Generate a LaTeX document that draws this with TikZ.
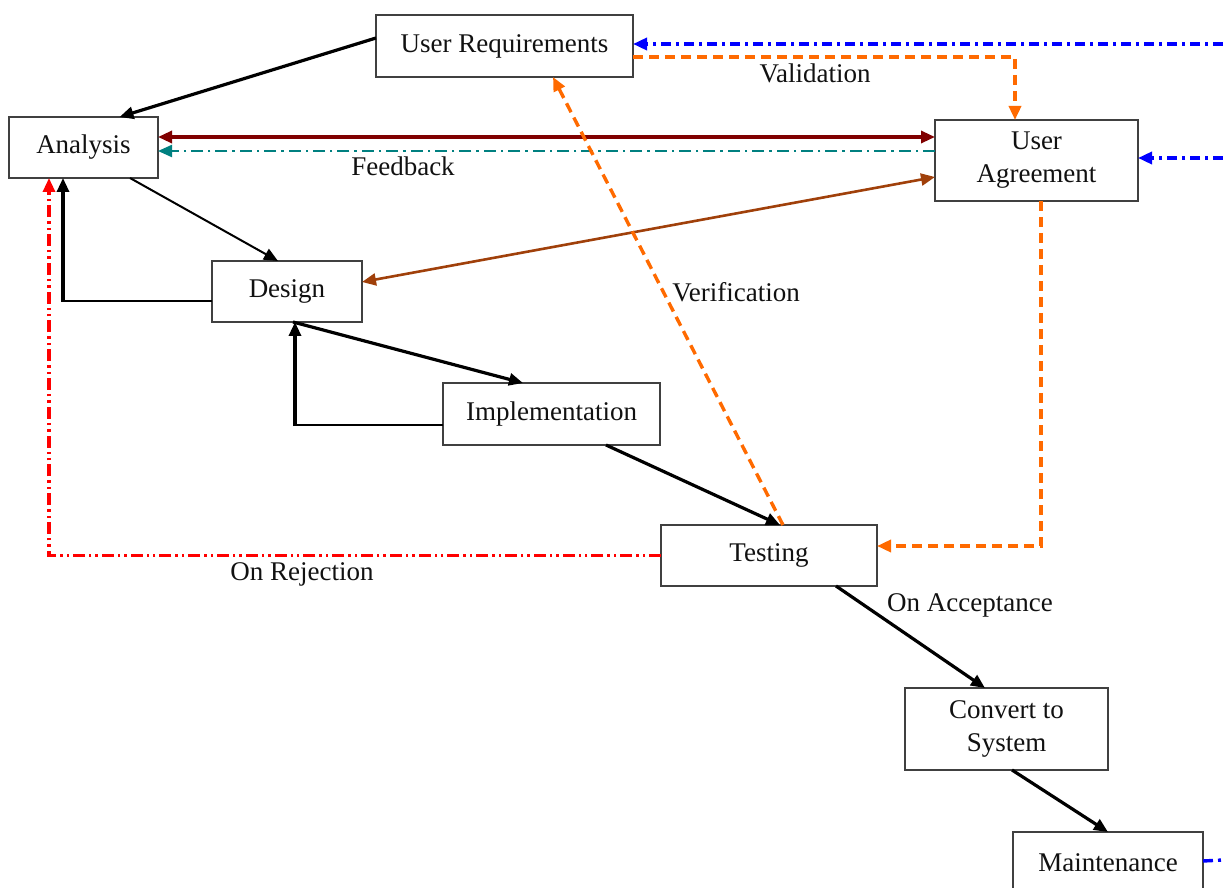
\documentclass[tikz,border=0pt]{standalone}
\usepackage{fontspec}
\setmainfont{Liberation Serif}
\usetikzlibrary{arrows.meta}
\definecolor{boxline}{HTML}{404040}
\definecolor{txt}{HTML}{111111}
\definecolor{maroonline}{HTML}{800000}
\definecolor{tealline}{HTML}{008080}
\definecolor{brownline}{HTML}{A0400A}
\definecolor{orangeline}{HTML}{FF6A00}
\definecolor{blueline}{HTML}{0000FF}
\definecolor{redline}{HTML}{FF0000}
\begin{document}
\begin{tikzpicture}[x=0.5pt,y=-0.5pt,
  font=\fontsize{13.5}{16.5}\selectfont, text=txt,
  stage/.style={draw=boxline, line width=1pt, fill=white, inner sep=0pt, outer sep=0pt, align=center},
  lbl/.style={inner sep=0pt},
  tip/.style={-{Triangle[length=7pt,width=6pt]}},
  dtip/.style={{Triangle[length=7pt,width=6pt]}-{Triangle[length=7pt,width=6pt]}},
  flow/.style={tip, line width=1.6pt, black},
  thinflow/.style={tip, line width=1pt, black},
  orangedash/.style={tip, orangeline, line width=1.7pt, dash pattern=on 5pt off 3pt},
  bluedash/.style={blueline, line width=1.7pt, dash pattern=on 5pt off 2.5pt on 1.5pt off 2.5pt},
  tealdash/.style={tip, tealline, line width=1.1pt, dash pattern=on 6pt off 2.5pt on 1.2pt off 2.5pt},
  reddash/.style={tip, redline, line width=1.6pt, dash pattern=on 6pt off 2pt on 1.2pt off 2pt on 1.2pt off 2pt}]
\useasboundingbox (0,0) rectangle (1223,888);

% stages
\node[stage, minimum width=128.5pt, minimum height=31pt] (ureq) at (504.5,46) {User Requirements};
\node[stage, minimum width=74.5pt, minimum height=30.5pt] (ana) at (83.5,147.5) {Analysis};
\node[stage, minimum width=101.5pt, minimum height=40.5pt] (uagr) at (1036.5,160.5) {User\\Agreement};
\node[stage, minimum width=75pt, minimum height=30.5pt] (des) at (287,291.5) {Design};
\node[stage, minimum width=108.5pt, minimum height=31pt] (imp) at (551.5,414) {Implementation};
\node[stage, minimum width=108pt, minimum height=30.5pt] (test) at (769,555.5) {Testing};
\node[stage, minimum width=101.5pt, minimum height=41pt] (conv) at (1006.5,729) {Convert to\\System};
\node[stage, minimum width=95pt, minimum height=31pt] (maint) at (1108,863) {Maintenance};

% open ends of the outside links
\coordinate (outA) at (1223,44);
\coordinate (outB) at (1223,158);
\coordinate (outC) at (1223,860);

% labels
\node[lbl] (lval) at (815,73) {Validation};
\node[lbl] (lfb) at (403,166) {Feedback};
\node[lbl] (lver) at (736,292) {Verification};
\node[lbl] (lrej) at (302,574) {On Rejection};
\node[lbl] (lacc) at (970,605) {On Acceptance};

% main flow
\draw[flow] ([yshift=4pt]ureq.west) -- ([xshift=18pt]ana.north);
\draw[thinflow] ([xshift=23.25pt]ana.south) -- ([xshift=-4.5pt]des.north);
\draw[flow] ([xshift=3pt]des.south) -- ([xshift=-14.25pt]imp.north);
\draw[flow] ([xshift=27.25pt]imp.south) -- ([xshift=5.5pt]test.north);
\draw[flow] ([xshift=33.5pt]test.south) -- ([xshift=-10.75pt]conv.north);
\draw[flow] ([xshift=2.75pt]conv.south) -- (maint.north);

% step-back loops: thin horizontal run, heavier riser
\draw[line width=1pt] ([yshift=-4.75pt]des.west) -| ([xshift=-10.25pt,yshift=-61.5pt]ana.south);
\draw[flow] ([xshift=-10.25pt,yshift=-62pt]ana.south) -- ([xshift=-10.25pt]ana.south);
\draw[line width=1pt] ([yshift=-5.5pt]imp.west) -| ([xshift=4pt,yshift=-51.5pt]des.south);
\draw[flow] ([xshift=4pt,yshift=-52pt]des.south) -- ([xshift=4pt]des.south);

% agreement links
\draw[dtip, maroonline, line width=1.6pt] ([yshift=5.25pt]ana.east) -- ([yshift=11.75pt]uagr.west);
\draw[tealdash] ([yshift=4.75pt]uagr.west) -- ([yshift=-1.75pt]ana.east);
\draw[dtip, brownline, line width=1.3pt] ([yshift=-8.25pt]uagr.west) -- ([yshift=4.75pt]des.east);

% validation and verification
\draw[orangedash] ([yshift=-5.5pt]ureq.east) -| ([xshift=-10.75pt]uagr.north);
\draw[orangedash] ([xshift=7pt]test.north) -- ([xshift=24.25pt]ureq.south);
\draw[orangedash] ([xshift=2.25pt]uagr.south) |- ([yshift=4.75pt]test.east);

% rejection
\draw[reddash] (test.west) -| ([xshift=-17.25pt]ana.south);

% outside links
\draw[bluedash, tip] (outA) -- ([yshift=1pt]ureq.east);
\draw[bluedash, tip] (outB) -- ([yshift=1.25pt]uagr.east);
\draw[bluedash] ([yshift=1pt]maint.east) -- (outC);
\end{tikzpicture}
\end{document}
